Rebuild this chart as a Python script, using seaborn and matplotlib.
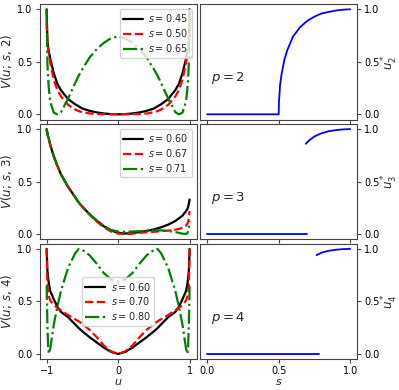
import numpy as np
import pandas as pd
import matplotlib
matplotlib.use("Agg")
import matplotlib.pyplot as plt
import seaborn as sns

# ---------------- data ----------------
U = [-1.0, -0.99, -0.98, -0.97, -0.95, -0.9, -0.85, -0.8, -0.7, -0.6, -0.55, -0.5,
     -0.4, -0.3, -0.2, -0.1, 0.0, 0.1, 0.2, 0.3, 0.4, 0.5, 0.55, 0.6, 0.7, 0.8,
     0.85, 0.9, 0.95, 0.97, 0.98, 0.99, 1.0]

# p = 2
s_p2 = ["0.45", "0.50", "0.65"]
V2_045 = [1.0, 0.70, 0.64, 0.60, 0.53, 0.39, 0.29, 0.23, 0.145, 0.095, 0.075, 0.055,
          0.033, 0.018, 0.008, 0.002, 0.0, 0.002, 0.008, 0.018, 0.033, 0.055, 0.075, 0.095,
          0.145, 0.23, 0.29, 0.39, 0.53, 0.60, 0.64, 0.70, 1.0]
V2_050 = [0.87, 0.70, 0.63, 0.58, 0.49, 0.33, 0.23, 0.17, 0.09, 0.045, 0.03, 0.02,
          0.008, 0.003, 0.001, 0.0, 0.0, 0.0, 0.001, 0.003, 0.008, 0.02, 0.03, 0.045,
          0.09, 0.17, 0.23, 0.33, 0.49, 0.58, 0.63, 0.70, 0.87]
V2_065 = [1.0, 0.50, 0.35, 0.25, 0.12, 0.015, 0.0, 0.02, 0.15, 0.30, 0.37, 0.43,
          0.54, 0.62, 0.68, 0.725, 0.74, 0.725, 0.68, 0.62, 0.54, 0.43, 0.37, 0.30,
          0.15, 0.02, 0.0, 0.015, 0.12, 0.25, 0.35, 0.50, 1.0]

# p = 3
s_p3 = ["0.60", "0.67", "0.71"]
V3_060 = [1.0, 0.96, 0.93, 0.91, 0.85, 0.74, 0.65, 0.57, 0.45, 0.35, 0.30, 0.26,
          0.19, 0.13, 0.075, 0.035, 0.012, 0.006, 0.01, 0.02, 0.03, 0.045, 0.055, 0.065,
          0.09, 0.125, 0.15, 0.175, 0.22, 0.24, 0.26, 0.29, 0.33]
V3_067 = [1.0, 0.96, 0.93, 0.91, 0.85, 0.74, 0.65, 0.57, 0.45, 0.35, 0.30, 0.26,
          0.185, 0.12, 0.065, 0.025, 0.005, 0.0, 0.005, 0.012, 0.018, 0.022, 0.025, 0.028,
          0.033, 0.042, 0.05, 0.06, 0.08, 0.10, 0.12, 0.16, 0.22]
V3_071 = [1.0, 0.96, 0.93, 0.91, 0.85, 0.74, 0.65, 0.57, 0.45, 0.35, 0.30, 0.26,
          0.19, 0.125, 0.075, 0.04, 0.025, 0.022, 0.025, 0.028, 0.032, 0.035, 0.036, 0.036,
          0.03, 0.02, 0.012, 0.004, 0.002, 0.012, 0.03, 0.06, 0.125]

# p = 4
s_p4 = ["0.60", "0.70", "0.80"]
V4_060 = [1.0, 0.80, 0.73, 0.67, 0.60, 0.52, 0.45, 0.40, 0.35, 0.28, 0.245, 0.215,
          0.16, 0.11, 0.06, 0.02, 0.0, 0.02, 0.06, 0.11, 0.16, 0.215, 0.245, 0.28,
          0.35, 0.40, 0.45, 0.52, 0.60, 0.67, 0.73, 0.80, 1.0]
V4_070 = [1.0, 0.66, 0.59, 0.55, 0.51, 0.465, 0.44, 0.415, 0.37, 0.33, 0.31, 0.285,
          0.23, 0.16, 0.08, 0.025, 0.0, 0.025, 0.08, 0.16, 0.23, 0.285, 0.31, 0.33,
          0.37, 0.415, 0.44, 0.465, 0.51, 0.55, 0.59, 0.66, 1.0]
V4_080 = [0.65, 0.30, 0.08, 0.0, 0.05, 0.28, 0.45, 0.60, 0.82, 0.96, 1.0, 0.99,
          0.94, 0.86, 0.77, 0.71, 0.69, 0.71, 0.77, 0.86, 0.94, 0.99, 1.0, 0.96,
          0.82, 0.60, 0.45, 0.28, 0.05, 0.0, 0.08, 0.30, 0.65]

# order parameter u*_p(s)
S2 = [0.0, 0.5, 0.502, 0.51, 0.52, 0.54, 0.56, 0.6, 0.65, 0.7, 0.75, 0.8, 0.85, 0.9, 0.95, 1.0]
U2 = [0.0, 0.0, 0.12, 0.28, 0.38, 0.52, 0.61, 0.74, 0.83, 0.89, 0.93, 0.96, 0.975, 0.988, 0.996, 1.0]
S3_low = [0.0, 0.70]
U3_low = [0.0, 0.0]
S3_high = [0.69, 0.70, 0.72, 0.75, 0.8, 0.85, 0.9, 0.95, 1.0]
U3_high = [0.86, 0.875, 0.90, 0.93, 0.96, 0.98, 0.99, 0.997, 1.0]
S4_low = [0.0, 0.78]
U4_low = [0.0, 0.0]
S4_high = [0.765, 0.8, 0.85, 0.9, 0.95, 1.0]
U4_high = [0.94, 0.965, 0.982, 0.992, 0.998, 1.0]

# ---------------- style ----------------
sns.set_style("ticks")
plt.rcParams["font.family"] = ["DejaVu Sans"]
plt.rcParams["mathtext.fontset"] = "dejavusans"
plt.rcParams["axes.edgecolor"] = "#444444"
plt.rcParams["axes.linewidth"] = 0.8
plt.rcParams["xtick.color"] = "#444444"
plt.rcParams["ytick.color"] = "#444444"
plt.rcParams["xtick.labelcolor"] = "black"
plt.rcParams["ytick.labelcolor"] = "black"
plt.rcParams["xtick.major.size"] = 3
plt.rcParams["ytick.major.size"] = 3
TICK_FS = 7
LAB_FS = 8.5
LEG_FS = 7
TXT_FS = 9.5

fig, axes = plt.subplots(3, 2, figsize=(3.99, 3.90), dpi=100)
fig.subplots_adjust(left=0.099, right=0.8955, top=0.9897, bottom=0.079,
                    wspace=0.021, hspace=0.037)

styles = [("black", "-"), ("red", "--"), ("green", "-.")]
left_sets = [
    (2, s_p2, [V2_045, V2_050, V2_065], "upper right"),
    (3, s_p3, [V3_060, V3_067, V3_071], "upper right"),
    (4, s_p4, [V4_060, V4_070, V4_080], "center"),
]
right_sets = [
    (2, [(S2, U2)]),
    (3, [(S3_low, U3_low), (S3_high, U3_high)]),
    (4, [(S4_low, U4_low), (S4_high, U4_high)]),
]

for row in range(3):
    axl = axes[row, 0]
    p, slabels, curves, loc = left_sets[row]
    for (col, ls), lab, V in zip(styles, slabels, curves):
        df = pd.DataFrame({"u": U, "V": V})
        sns.lineplot(data=df, x="u", y="V", ax=axl, color=col, linestyle=ls,
                     lw=1.6, sort=False, estimator=None, label=f"$s = {lab}$")
    axl.set_xlim(-1.1, 1.1)
    axl.set_ylim(-0.05, 1.05)
    axl.set_xticks([-1, 0, 1])
    axl.set_yticks([0.0, 0.5, 1.0])
    axl.set_yticklabels(["0.0", "0.5", "1.0"])
    axl.set_ylabel(f"$V(u;\\,s,\\,{p})$", fontsize=LAB_FS, labelpad=2)
    axl.tick_params(labelsize=TICK_FS, pad=2)
    axl.legend(loc=loc, fontsize=LEG_FS, handlelength=2.0, borderpad=0.35,
               labelspacing=0.3, handletextpad=0.6)
    if row < 2:
        axl.set_xlabel("")
        axl.tick_params(labelbottom=False)
    else:
        axl.set_xticklabels(["\u22121", "0", "1"])
        axl.set_xlabel("$u$", fontsize=8, labelpad=0.5)

    axr = axes[row, 1]
    p, segs = right_sets[row]
    for S, Us in segs:
        df = pd.DataFrame({"s": S, "u": Us})
        sns.lineplot(data=df, x="s", y="u", ax=axr, color="blue", lw=1.3,
                     sort=False, estimator=None)
    axr.set_xlim(-0.05, 1.05)
    axr.set_ylim(-0.05, 1.05)
    axr.set_xticks([0.0, 0.5, 1.0])
    axr.set_yticks([0.0, 0.5, 1.0])
    axr.yaxis.tick_right()
    axr.yaxis.set_label_position("right")
    axr.set_ylabel(f"$u_{p}^*$", fontsize=LAB_FS, labelpad=0)
    axr.tick_params(labelsize=TICK_FS, pad=2)
    axr.text(0.07, 0.36, f"$p = {p}$", transform=axr.transAxes, fontsize=TXT_FS,
             va="center", ha="left")
    if row < 2:
        axr.set_xlabel("")
        axr.tick_params(labelbottom=False)
    else:
        axr.set_xlabel("$s$", fontsize=8, labelpad=0.5)

fig.savefig("out.png", dpi=100)
